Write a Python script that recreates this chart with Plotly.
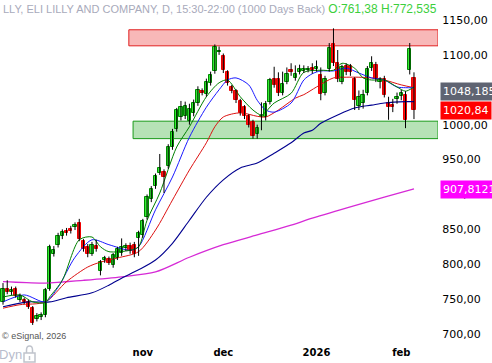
import plotly.graph_objects as go
import pandas as pd

# ---------------- data ----------------
holidays = ["2025-11-27", "2025-12-25", "2026-01-01", "2026-01-19"]
dates = [d for d in pd.bdate_range("2025-09-17", "2026-02-05")
         if d.strftime("%Y-%m-%d") not in holidays]

opens = [746, 764, 760, 765, 749, 749, 746, 737, 722, 724,
         727, 765, 815, 828, 840, 848, 851, 853, 859, 833,
         825, 815, 826, 790, 806, 808, 799, 809, 816, 823,
         826, 828, 838, 842, 868, 893, 912, 931, 932, 941,
         968, 994, 1011, 1012, 1005, 1017, 1031, 1048, 1044, 1060,
         1077, 1104, 1098, 1075, 1054, 1048, 1034, 1025, 1012, 1004,
         987, 1011, 1011, 1033, 1065, 1065, 1045, 1061, 1078, 1067,
         1076, 1077, 1078, 1081, 1080, 1071, 1045, 1080, 1116, 1088,
         1061, 1084, 1084, 1065, 1027, 1031, 1045, 1081, 1086, 1061,
         1065, 1031, 1028, 1037, 1041, 1043, 1078, 1067]
highs = [773, 777, 768, 768, 758, 752, 749, 740, 730, 731,
         766, 828, 826, 845, 850, 852, 855, 860, 865, 836,
         829, 832, 835, 806, 812, 811, 816, 825, 837, 830,
         831, 832, 848, 865, 900, 912, 930, 958, 936, 972,
         994, 1024, 1034, 1033, 1030, 1036, 1055, 1052, 1066, 1076,
         1115, 1112, 1102, 1078, 1057, 1051, 1037, 1028, 1015, 1007,
         1000, 1032, 1034, 1067, 1083, 1075, 1076, 1082, 1088, 1085,
         1086, 1085, 1084, 1088, 1092, 1082, 1070, 1117, 1138, 1107,
         1086, 1088, 1087, 1068, 1049, 1050, 1084, 1098, 1090, 1068,
         1070, 1040, 1037, 1046, 1050, 1048, 1117, 1075]
lows = [742, 757, 756, 752, 746, 743, 736, 713, 718, 720,
        724, 762, 811, 824, 836, 841, 844, 849, 833, 818,
        810, 812, 818, 784, 802, 799, 795, 806, 812, 819,
        815, 810, 812, 838, 864, 889, 908, 928, 902, 937,
        964, 990, 1006, 1008, 1000, 1012, 1027, 1042, 1040, 1056,
        1073, 1100, 1074, 1056, 1045, 1031, 1013, 1008, 996, 980,
        980, 992, 1006, 1029, 1053, 1041, 1042, 1058, 1070, 1063,
        1072, 1074, 1075, 1073, 1076, 1035, 1042, 1076, 1084, 1061,
        1058, 1071, 1070, 1021, 1021, 1023, 1042, 1077, 1061, 1052,
        1039, 1007, 1018, 1030, 1035, 995, 1072, 1008]
closes = [765, 760, 763, 755, 755, 746, 739, 716, 726, 727,
          763, 825, 820, 840, 846, 845, 848, 856, 836, 822,
          815, 828, 822, 803, 809, 802, 813, 822, 825, 826,
          819, 815, 845, 862, 896, 908, 927, 938, 925, 968,
          990, 1021, 1025, 1027, 1022, 1031, 1050, 1046, 1061, 1071,
          1111, 1106, 1078, 1060, 1048, 1035, 1017, 1012, 1000, 984,
          995, 1013, 1030, 1064, 1057, 1045, 1058, 1073, 1075, 1073,
          1080, 1080, 1080, 1078, 1083, 1044, 1065, 1110, 1088, 1065,
          1082, 1075, 1075, 1035, 1040, 1043, 1080, 1088, 1065, 1065,
          1043, 1025, 1025, 1040, 1045, 1007, 1108, 1021]

# moving-average lines, read at sampled bars (bar index, value)
green_idx = [0, 4, 7, 10, 11, 14, 18, 21, 23, 25, 30, 32, 34, 37, 41, 44, 48, 51,
             53, 56, 59, 61, 64, 68, 71, 75, 78, 80, 83, 85, 87, 90, 93, 95, 97]
green_val = [753, 756, 746, 745, 753, 777, 835, 839, 825, 818, 820, 825, 863, 902,
             968, 997, 1040, 1060, 1064, 1040, 1021, 1014, 1031, 1045, 1075, 1078,
             1078, 1088, 1081, 1067, 1064, 1064, 1054, 1048, 1054]
blue_idx = [0, 5, 10, 13, 17, 21, 25, 30, 32, 36, 40, 44, 48, 51, 53, 55, 58, 60,
            62, 64, 68, 71, 73, 75, 78, 81, 84, 87, 90, 93, 95, 97]
blue_val = [746, 756, 746, 767, 810, 835, 828, 820, 825, 878, 925, 982, 1025, 1050,
            1064, 1067, 1057, 1035, 1021, 1018, 1031, 1064, 1073, 1077, 1077, 1081,
            1074, 1067, 1064, 1054, 1053, 1053]
red_idx = [0, 4, 10, 15, 20, 23, 27, 32, 36, 40, 44, 48, 50, 52, 56, 60, 62, 65,
           69, 71, 74, 78, 81, 84, 87, 90, 94, 97]
red_val = [737, 742, 746, 775, 796, 803, 809, 818, 849, 892, 935, 974, 997, 1011,
           1017, 1012, 1011, 1021, 1038, 1043, 1054, 1067, 1068, 1068, 1067, 1064,
           1057, 1053]
navy_idx = [0, 6, 11, 15, 21, 25, 28, 32, 36, 40, 44, 48, 52, 56, 60, 64, 68, 71,
            73, 75, 79, 83, 87, 90, 95, 97]
navy_val = [739, 746, 746, 752, 759, 770, 780, 792, 806, 830, 863, 896, 921, 938,
            945, 959, 974, 988, 992, 1002, 1014, 1024, 1028, 1031, 1033, 1033]
magenta_idx = [0, 10, 19, 28, 36, 44, 52, 60, 68, 73, 83, 90, 97]
magenta_val = [775, 773, 777, 782, 789, 810, 828, 842, 856, 866, 884, 896, 908]

# zones (price levels) and zone start bars
resist_lo, resist_hi, resist_start = 1113, 1136, 29.7
support_lo, support_hi, support_start = 980, 1005, 30.7

# right-hand price labels
label_values = [1048.185, 1020.84, 907.8121]
label_colors = ["#5f6472", "#ff0000", "#ff00ff"]

month_keys = ["2025-11", "2025-12", "2026-01", "2026-02"]
month_labels = ["nov", "dec", "2026", "feb"]
y_ticks = list(range(700, 1151, 50))

title_text = "LLY, ELI LILLY AND COMPANY, D, 15:30-22:00 (1000 Days Back)"
title_ohlc = "O:761,38 H:772,535"

# ---------------- figure ----------------
n = len(closes)
idx = list(range(n))
tickvals = [next(i for i, d in enumerate(dates) if d.strftime("%Y-%m") == m)
            for m in month_keys]

fig = go.Figure()

for xs, ys, col, w in [(magenta_idx, magenta_val, "#d62ad6", 1.3),
                       (navy_idx, navy_val, "#00008f", 1.1),
                       (red_idx, red_val, "#dd1111", 1.0),
                       (blue_idx, blue_val, "#1a1aff", 1.0),
                       (green_idx, green_val, "#008000", 1.0)]:
    fig.add_trace(go.Scatter(x=xs, y=ys, mode="lines",
                             line=dict(color=col, width=w, shape="spline", smoothing=0.8),
                             hoverinfo="skip"))

wx, wy = [], []
for i, h, l in zip(idx, highs, lows):
    wx += [i, i, None]
    wy += [l, h, None]
fig.add_trace(go.Scatter(x=wx, y=wy, mode="lines",
                         line=dict(color="black", width=1), hoverinfo="skip"))

up = [c >= o for o, c in zip(opens, closes)]
fig.add_trace(go.Bar(
    x=idx,
    base=[min(o, c) for o, c in zip(opens, closes)],
    y=[max(abs(c - o), 1.5) for o, c in zip(opens, closes)],
    width=0.78,
    marker=dict(color=["#33ee33" if u else "#ff1010" for u in up],
                line=dict(color=["#008a00" if u else "#ee0000" for u in up], width=1)),
    hovertext=[d.strftime("%Y-%m-%d") for d in dates],
))

x_range = [-0.708, 102.67]
fig.add_shape(type="rect", xref="x", yref="y", x0=resist_start, x1=x_range[1],
              y0=resist_lo, y1=resist_hi, fillcolor="#f8b8b8",
              line=dict(color="#e02020", width=1), layer="below")
fig.add_shape(type="rect", xref="x", yref="y", x0=support_start, x1=x_range[1],
              y0=support_lo, y1=support_hi, fillcolor="#b6e2b6",
              line=dict(color="#1a9a1a", width=1), layer="below")

for v, col in zip(label_values, label_colors):
    fig.add_annotation(x=1, xref="paper", y=v, yref="y", xanchor="left", yanchor="middle",
                       xshift=2, text=str(v).replace(".", ","), showarrow=False,
                       bgcolor=col, borderpad=2,
                       font=dict(family="DejaVu Sans", size=11, color="white"))

fig.add_annotation(x=0.002, xref="paper", y=1 - 9 / 345, yref="paper",
                   xanchor="left", yanchor="middle", showarrow=False,
                   text=title_text + " <span style='color:#3ccf3c;font-size:12px'>"
                        + title_ohlc + "</span>",
                   font=dict(family="Liberation Sans", size=11, color="#a8aabb"))
fig.add_annotation(x=0, xref="paper", y=1 - 336 / 345, yref="paper",
                   xanchor="left", yanchor="middle", showarrow=False,
                   text="© eSignal, 2026",
                   font=dict(family="Liberation Sans", size=9, color="#555555"))
fig.add_annotation(x=-3 / 438, xref="paper", y=1 - 355 / 345, yref="paper",
                   xanchor="left", yanchor="middle", showarrow=False,
                   text="Dyn",
                   font=dict(family="Liberation Sans", size=13, color="#b8bccc"))

# lock icon
def px(xp):
    return xp / 438
def py(yp):
    return 1 - yp / 345
fig.add_shape(type="rect", xref="paper", yref="paper",
              x0=px(24), x1=px(35), y0=py(362), y1=py(353),
              line=dict(color="#c0c4cc", width=1.5))
fig.add_shape(type="path", xref="paper", yref="paper",
              path=f"M {px(26.5)},{py(353)} L {px(26.5)},{py(350)} "
                   f"Q {px(26.5)},{py(346)} {px(29.5)},{py(346)} "
                   f"Q {px(32.5)},{py(346)} {px(32.5)},{py(350)} L {px(32.5)},{py(353)}",
              line=dict(color="#c0c4cc", width=1.5))
fig.add_shape(type="line", xref="paper", yref="paper",
              x0=px(29.5), x1=px(29.5), y0=py(356), y1=py(360),
              line=dict(color="#c0c4cc", width=1.5))

fig.update_layout(
    width=492, height=363,
    margin=dict(l=0, r=54, t=0, b=18, autoexpand=False),
    paper_bgcolor="white", plot_bgcolor="white",
    showlegend=False, separators=",.", bargap=0, hovermode=False,
    xaxis=dict(range=x_range, showgrid=False, zeroline=False, showline=False,
               tickvals=tickvals, ticktext=month_labels, ticks="", automargin=False,
               tickfont=dict(family="DejaVu Sans", size=10, color="black", weight="bold")),
    yaxis=dict(side="right", range=[684.25, 1178.66], showgrid=False, zeroline=False,
               showline=False, tickvals=y_ticks, tickformat=".2f", automargin=False,
               ticks="outside", ticklen=1, tickcolor="white",
               tickfont=dict(family="DejaVu Sans", size=11, color="black")),
)

fig.write_html("out.html", config={"displayModeBar": False},
               post_script="document.body.style.margin='0';document.body.style.padding='0';")
